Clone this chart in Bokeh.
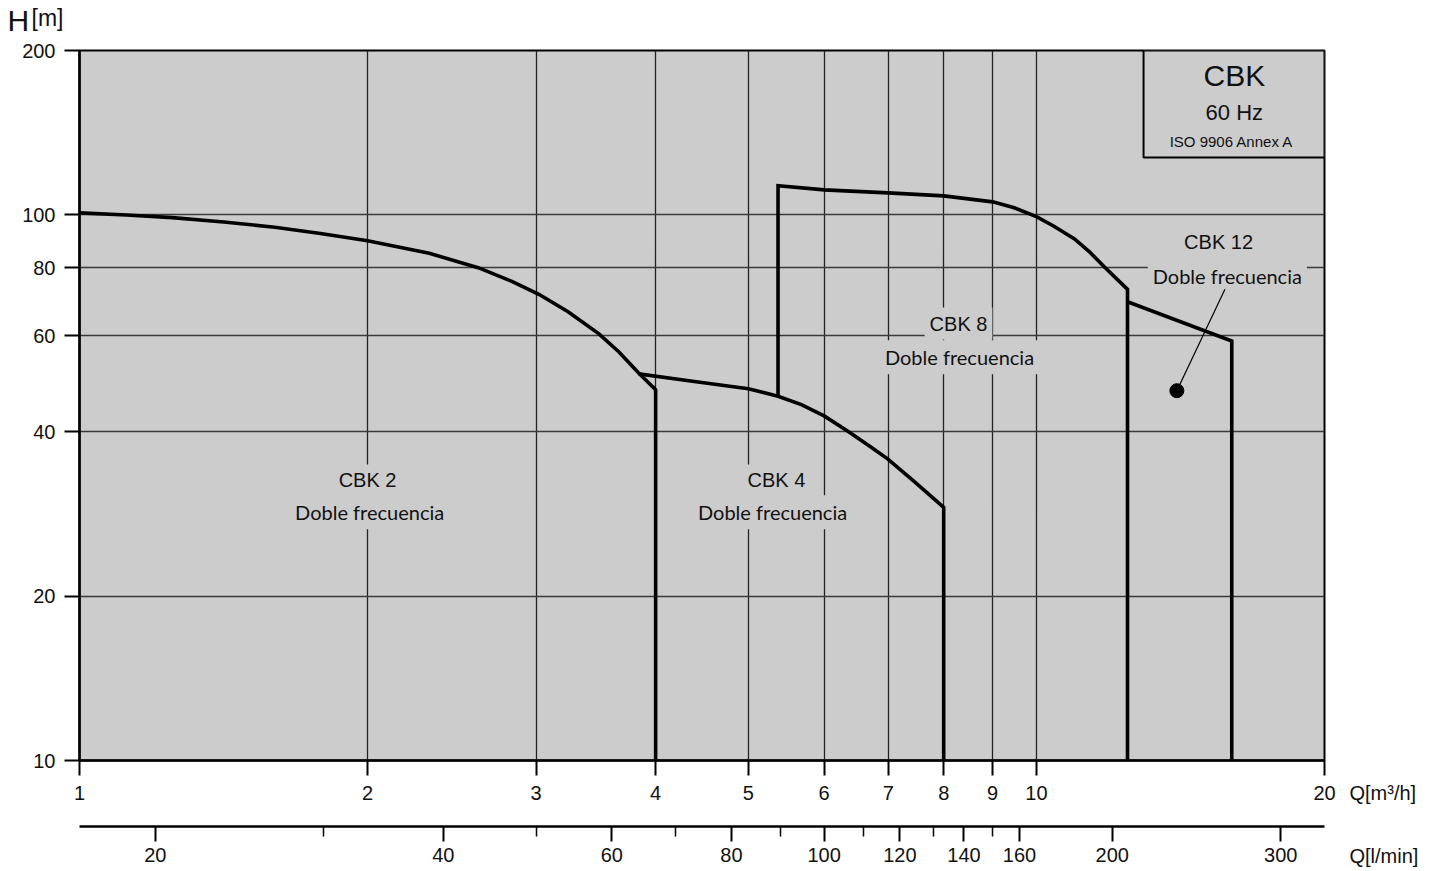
from bokeh.plotting import figure
from bokeh.layouts import column, row
from bokeh.models import (Range1d, LogScale, LogAxis, FixedTicker, NumeralTickFormatter,
                          ColumnDataSource, Spacer)
from bokeh.core.properties import value
from bokeh.embed import file_html
from bokeh.resources import INLINE

# ---------------- data ----------------
# flow Q [m3/h], head H [m]
q_cbk2 = [1.0, 1.12, 1.25, 1.415, 1.6, 1.786, 2.0, 2.32, 2.61, 2.83, 3.02, 3.24, 3.49, 3.66, 3.84, 4.0, 4.0]
h_cbk2 = [100.8, 99.9, 98.8, 97.0, 94.9, 92.4, 89.6, 85.0, 80.0, 75.5, 71.5, 66.4, 60.5, 56.1, 51.3, 47.8, 10.0]

q_cbk4 = [3.84, 4.39, 5.0, 5.37, 5.68, 6.0, 6.37, 6.69, 6.99, 7.46, 8.0, 8.0]
h_cbk4 = [51.1, 49.5, 48.0, 46.5, 44.9, 42.8, 40.0, 37.7, 35.7, 32.4, 29.1, 10.0]

q_cbk8 = [5.37, 5.37, 6.0, 7.0, 8.0, 9.0, 9.48, 10.0, 10.43, 10.96, 11.37, 11.8, 12.45, 12.45]
h_cbk8 = [46.5, 113.0, 111.1, 109.7, 108.3, 105.6, 103.0, 99.2, 95.3, 90.3, 85.4, 80.0, 73.0, 10.0]

q_cbk12 = [12.45, 16.0, 16.0]
h_cbk12 = [69.3, 58.7, 10.0]

dot_q = [14.02]
dot_h = [47.6]
leader_q = [15.74, 14.02]
leader_h = [73.0, 47.6]

label_names = ["CBK 2", "CBK 4", "CBK 8", "CBK 12"]
label_q = [2.0, 5.35, 8.29, 15.5]
label_h = [32.6, 32.6, 63.2, 89.3]
sub_names = ["Doble frecuencia"] * 4
sub_q = [2.01, 5.30, 8.31, 15.83]
sub_h = [28.5, 28.5, 54.8, 77.1]

box_lines = ["CBK", "60 Hz", "ISO 9906 Annex A"]
box_line_q = [16.1, 16.1, 16.0]
box_line_h = [180.0, 154.0, 136.2]
box_line_size = ["30px", "22px", "15px"]
box_q = [12.94, 20.0]
box_h = [127.4, 200.0]

x_ticks = [1, 2, 3, 4, 5, 6, 7, 8, 9, 10, 20]
y_ticks = [10, 20, 40, 60, 80, 100, 200]
lmin_ticks = [20, 40, 60, 80, 100, 120, 140, 160, 200, 300]
lmin_minor = [30, 50, 70, 90, 110, 130, 150]
q_range = (1.0, 20.0)
h_range = (10.0, 200.0)
m3h_to_lmin = 1000.0 / 60.0

y_title_parts = ["H", "[m]"]
x_titles = ["Q[m³/h]", "Q[l/min]"]

GRAY = "#cccccc"
ARIAL = "Liberation Sans"
CAL = "Lato"
INK = "#111111"

TOP_H = 36
MAIN_W = 1340
MAIN_H = 834
SIDE_W = 100
SIDE_GAP = 734          # empty space above the strip with the flow titles
SIDE_H = MAIN_H - SIDE_GAP

p = figure(width=MAIN_W, height=MAIN_H, x_axis_type="log", y_axis_type="log",
           x_range=Range1d(*q_range), y_range=Range1d(*h_range),
           output_backend="svg", toolbar_location=None,
           min_border_left=79, min_border_right=16, min_border_top=14, min_border_bottom=110)
p.background_fill_color = GRAY
p.border_fill_color = "white"
p.outline_line_color = "black"
p.outline_line_width = 2

# main axes
p.xaxis.ticker = FixedTicker(ticks=x_ticks, minor_ticks=[])
p.xaxis.formatter = NumeralTickFormatter(format="0")
p.yaxis.ticker = FixedTicker(ticks=y_ticks, minor_ticks=[])
p.yaxis.formatter = NumeralTickFormatter(format="0")
for ax in (p.xaxis[0], p.yaxis[0]):
    ax.axis_line_width = 2.5
    ax.axis_line_color = "black"
    ax.major_tick_out = 15
    ax.major_tick_in = 0
    ax.major_tick_line_width = 2
    ax.major_tick_line_color = "black"
    ax.minor_tick_line_color = None
    ax.major_label_text_font = ARIAL
    ax.major_label_text_font_size = "20px"
    ax.major_label_text_color = INK
p.xaxis.major_label_standoff = 10
p.yaxis.major_label_standoff = 9
# spacer so that the second axis sits lower
p.xaxis.axis_label = "\u00a0"
p.xaxis.axis_label_text_font_size = "12px"
p.xaxis.axis_label_standoff = 7

# second axis in l/min
p.extra_x_ranges = {"lmin": Range1d(q_range[0] * m3h_to_lmin, q_range[1] * m3h_to_lmin)}
p.extra_x_scales = {"lmin": LogScale()}
ax2 = LogAxis(x_range_name="lmin",
              ticker=FixedTicker(ticks=lmin_ticks, minor_ticks=lmin_minor),
              formatter=NumeralTickFormatter(format="0"))
ax2.axis_line_width = 2.5
ax2.major_tick_out = 15
ax2.major_tick_in = 0
ax2.minor_tick_out = 10
ax2.minor_tick_in = 0
ax2.major_tick_line_width = 2
ax2.minor_tick_line_width = 1.5
ax2.major_label_standoff = 6
ax2.major_label_text_font = ARIAL
ax2.major_label_text_font_size = "20px"
ax2.major_label_text_color = INK
p.add_layout(ax2, "below")

# grids
p.xgrid.grid_line_color = "#222222"
p.xgrid.grid_line_width = 1.3
p.ygrid.grid_line_color = "#3a3a3a"
p.ygrid.grid_line_width = 1.6

# top-right info box
p.quad(left=[box_q[0]], right=[box_q[1]], bottom=[box_h[0]], top=[box_h[1]],
       fill_color=GRAY, line_color="black", line_width=2)
p.text(x="q", y="h", text="t",
       source=ColumnDataSource(dict(q=box_line_q, h=box_line_h, t=box_lines, s=box_line_size)),
       text_font=value(ARIAL), text_font_size="s", text_align="center", text_baseline="middle",
       text_color=INK)

# curve labels with gray backgrounds (interrupt grid lines)
p.text(x="q", y="h", text="t", source=ColumnDataSource(dict(q=sub_q, h=sub_h, t=sub_names)),
       text_font=value(CAL), text_font_size="20px", text_align="center", text_baseline="middle",
       text_color=INK, background_fill_color=GRAY, padding=5)
p.text(x="q", y="h", text="t", source=ColumnDataSource(dict(q=label_q, h=label_h, t=label_names)),
       text_font=value(ARIAL), text_font_size="20px", text_align="center", text_baseline="middle",
       text_color=INK, background_fill_color=GRAY, padding=5)

# curves
for q, h in ((q_cbk2, h_cbk2), (q_cbk4, h_cbk4), (q_cbk8, h_cbk8), (q_cbk12, h_cbk12)):
    p.line(q, h, line_color="black", line_width=3.6, line_join="miter")

p.line(leader_q, leader_h, line_color="black", line_width=1.2)
p.scatter(dot_q, dot_h, size=14, color="black")


def blank(width, height):
    f = figure(width=width, height=height, x_range=Range1d(0, width), y_range=Range1d(height, 0),
               output_backend="svg", toolbar_location=None,
               min_border=0, x_axis_location=None, y_axis_location=None)
    f.grid.visible = False
    f.outline_line_color = None
    f.background_fill_color = "white"
    f.border_fill_color = "white"
    return f


# strip above the chart: y-axis title "H[m]"
top = blank(MAIN_W + SIDE_W, TOP_H)
top.text(x=[7], y=[20], text=[y_title_parts[0]], text_font=value(ARIAL), text_font_size="30px",
         text_baseline="middle", text_color=INK)
top.text(x=[31], y=[17], text=[y_title_parts[1]], text_font=value(ARIAL), text_font_size="23px",
         text_baseline="middle", text_color=INK)

# strip right of the chart: the two flow-axis titles
side = blank(SIDE_W, SIDE_H)
y0 = TOP_H + SIDE_GAP
side.text(x=[9, 9], y=[792 - y0, 855 - y0], text=x_titles, text_font=value(ARIAL),
          text_font_size="20px", text_baseline="middle", text_color=INK)

side_col = column(Spacer(width=SIDE_W, height=SIDE_GAP), side, spacing=0)
layout = column(top, row(p, side_col, spacing=0), spacing=0)
open("out.html", "w").write(file_html(layout, INLINE))
